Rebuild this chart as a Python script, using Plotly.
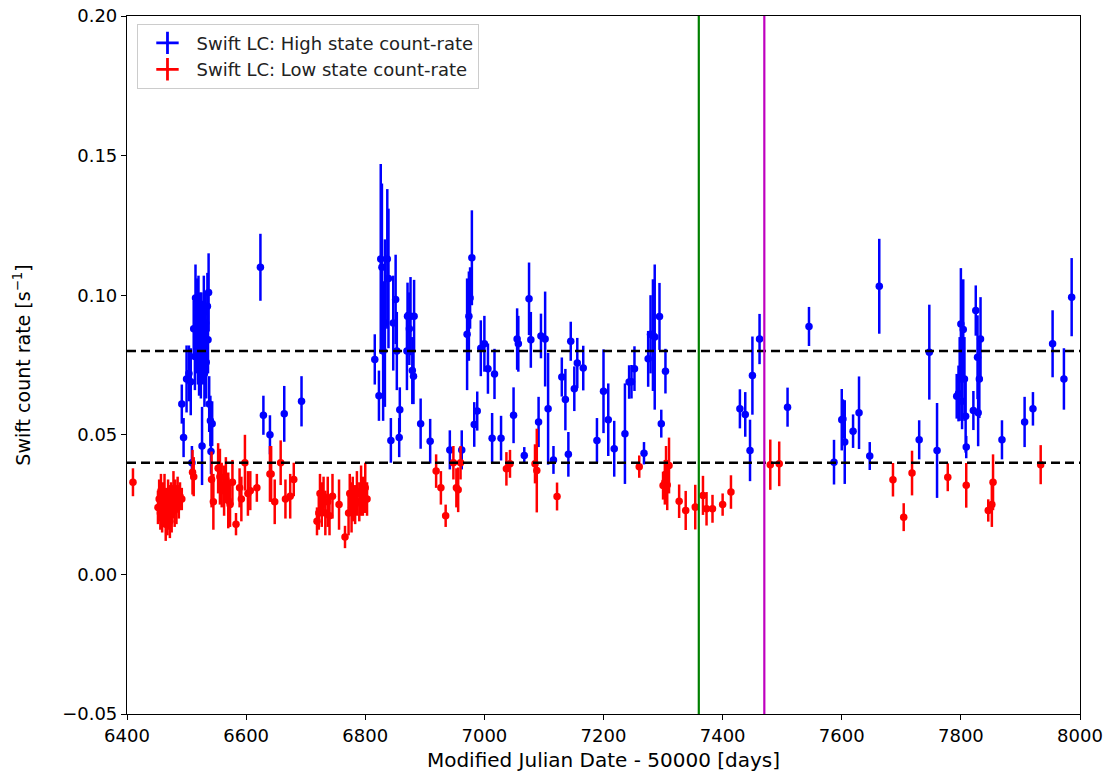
import plotly.graph_objects as go

# Swift light curve, high state (MJD - 50000, count rate, 1-sigma error)
high_mjd = [6492, 6495, 6500, 6504, 6507, 6509, 6512, 6514, 6515, 6517, 6518, 6519, 6520,
            6521, 6522, 6523, 6524, 6525, 6526, 6527, 6528, 6529, 6530, 6531, 6532, 6533,
            6535, 6536, 6537, 6538, 6540, 6541, 6543,
            6624, 6629, 6640, 6664, 6693,
            6816, 6823, 6826, 6828, 6830, 6833, 6837, 6839, 6843, 6847, 6851, 6853, 6857,
            6858, 6870, 6871, 6874, 6876, 6879, 6881, 6882, 6893, 6909,
            6942, 6962, 6971, 6974, 6976, 6979, 6983, 6988, 6994, 7000, 7006, 7013, 7017,
            7028, 7049, 7055, 7057, 7067, 7075, 7078, 7091, 7095, 7102, 7107, 7116, 7130,
            7136, 7141, 7145, 7151, 7156, 7166, 7189, 7200, 7208, 7218, 7236, 7243, 7247,
            7252, 7268, 7275, 7279, 7283, 7286, 7294, 7297, 7304,
            7429, 7438, 7446, 7450, 7462, 7509, 7545,
            7587, 7600, 7602, 7605, 7619, 7629, 7647, 7663,
            7730, 7747, 7760, 7793, 7796, 7798, 7800, 7802, 7804, 7806, 7808, 7809, 7821,
            7825, 7828, 7829, 7831, 7833, 7869, 7907, 7921, 7954, 7973, 7986]
high_rate = [0.061, 0.049, 0.070, 0.072, 0.069, 0.040, 0.088, 0.078, 0.099, 0.085, 0.092, 0.080, 0.095,
             0.075, 0.083, 0.089, 0.077, 0.091, 0.046, 0.086, 0.079, 0.094, 0.072, 0.082, 0.090, 0.076,
             0.096, 0.084, 0.101, 0.061, 0.055, 0.044, 0.054,
             0.110, 0.057, 0.050, 0.0575, 0.062,
             0.077, 0.064, 0.113, 0.110, 0.080, 0.090, 0.113, 0.106, 0.048, 0.090, 0.0985, 0.080, 0.049,
             0.059, 0.080, 0.0925, 0.088, 0.0925, 0.073, 0.071, 0.0925, 0.054, 0.0477,
             0.0446, 0.0446, 0.086, 0.0925, 0.099, 0.1134, 0.0537, 0.0585, 0.081, 0.0826, 0.0737, 0.0488, 0.0718,
             0.0488, 0.057, 0.0843, 0.0826, 0.0426, 0.0987, 0.084, 0.0546, 0.0854, 0.0843, 0.0593, 0.041, 0.0707,
             0.0626, 0.043, 0.0835, 0.0665, 0.0757, 0.0739, 0.048, 0.0656, 0.0554, 0.045, 0.0504, 0.0689, 0.069,
             0.0737, 0.0434, 0.0772, 0.086, 0.0857, 0.085, 0.0924, 0.054, 0.0728,
             0.0593, 0.0573, 0.0444, 0.0712, 0.0843, 0.0599, 0.0888,
             0.0402, 0.0554, 0.0557, 0.0474, 0.0513, 0.0579, 0.0424, 0.1032,
             0.0482, 0.0796, 0.0444, 0.0638, 0.0648, 0.070, 0.0897, 0.062, 0.0877, 0.070, 0.0566, 0.0456, 0.0587,
             0.0945, 0.0778, 0.0579, 0.070, 0.0843, 0.0482, 0.0546, 0.0593, 0.0826, 0.070, 0.0993]
high_err = [0.007, 0.007, 0.012, 0.010, 0.012, 0.006, 0.010, 0.012, 0.012, 0.013, 0.014, 0.012, 0.012,
            0.011, 0.013, 0.012, 0.014, 0.010, 0.014, 0.012, 0.011, 0.013, 0.012, 0.010, 0.011, 0.013,
            0.012, 0.012, 0.014, 0.010, 0.009, 0.008, 0.008,
            0.012, 0.007, 0.007, 0.010, 0.009,
            0.009, 0.009, 0.034, 0.030, 0.025, 0.030, 0.025, 0.025, 0.008, 0.017, 0.016, 0.014, 0.007,
            0.008, 0.014, 0.012, 0.013, 0.014, 0.012, 0.010, 0.013, 0.009, 0.008,
            0.007, 0.007, 0.020, 0.016, 0.011, 0.017, 0.008, 0.007, 0.010, 0.010, 0.009, 0.009, 0.009,
            0.008, 0.010, 0.011, 0.010, 0.003, 0.013, 0.010, 0.009, 0.008, 0.017, 0.020, 0.005, 0.007,
            0.011, 0.008, 0.007, 0.008, 0.009, 0.008, 0.008, 0.015, 0.013, 0.010, 0.018, 0.006, 0.006,
            0.008, 0.004, 0.010, 0.014, 0.020, 0.026, 0.012, 0.005, 0.008,
            0.007, 0.008, 0.011, 0.014, 0.009, 0.007, 0.007,
            0.008, 0.011, 0.007, 0.015, 0.006, 0.013, 0.005, 0.017,
            0.007, 0.017, 0.017, 0.008, 0.010, 0.015, 0.020, 0.010, 0.018, 0.015, 0.013, 0.004, 0.007,
            0.009, 0.015, 0.012, 0.014, 0.015, 0.007, 0.009, 0.006, 0.012, 0.011, 0.014]

# Swift light curve, low state
low_mjd = [6410,
           6452, 6454, 6456, 6457, 6459, 6460, 6462, 6463, 6465, 6466, 6468, 6469, 6471,
           6472, 6474, 6475, 6477, 6478, 6480, 6481, 6483, 6485, 6487, 6489, 6492,
           6510, 6512, 6542, 6545, 6553, 6556, 6559, 6563, 6566, 6570, 6573, 6577, 6583,
           6589, 6592, 6598, 6603, 6607, 6618, 6640, 6642, 6648, 6658, 6666, 6674, 6680,
           6719, 6722, 6724, 6727, 6730, 6733, 6737, 6740, 6745, 6756, 6766, 6772, 6774,
           6777, 6779, 6783, 6786, 6790, 6793, 6796, 6800, 6803,
           6919, 6927, 6935, 6948, 6953, 6956, 6960, 7037, 7043, 7085, 7088, 7122, 7260,
           7300, 7303, 7305, 7307, 7310, 7327, 7338, 7354, 7367, 7373, 7383, 7400, 7414,
           7480, 7495, 7686, 7704, 7718, 7778, 7809, 7846, 7852, 7854, 7934]
low_rate = [0.033,
            0.024, 0.027, 0.022, 0.030, 0.020, 0.026, 0.023, 0.029, 0.018, 0.025, 0.021, 0.028, 0.024,
            0.019, 0.027, 0.022, 0.026, 0.030, 0.023, 0.028, 0.025, 0.029, 0.026, 0.028, 0.027,
            0.0366, 0.035, 0.034, 0.026, 0.038, 0.035, 0.032, 0.030, 0.034, 0.0265, 0.025, 0.033, 0.018,
            0.031, 0.027, 0.040, 0.029, 0.030, 0.031, 0.036, 0.036, 0.026, 0.040, 0.027, 0.028, 0.034,
            0.019, 0.022, 0.029, 0.025, 0.028, 0.022, 0.026, 0.021, 0.028, 0.025, 0.0134, 0.022, 0.029,
            0.024, 0.027, 0.025, 0.029, 0.026, 0.030, 0.028, 0.031, 0.027,
            0.037, 0.031, 0.021, 0.040, 0.031, 0.0303, 0.040, 0.0378, 0.0396, 0.0396, 0.0372, 0.0279, 0.0386,
            0.0318, 0.033, 0.036, 0.032, 0.039, 0.0262, 0.0229, 0.0241, 0.0283, 0.0235, 0.0235, 0.025, 0.0295,
            0.0393, 0.0396, 0.0339, 0.0205, 0.0363, 0.0348, 0.0319, 0.0229, 0.025, 0.033, 0.0393]
low_err = [0.005,
           0.006, 0.007, 0.006, 0.006, 0.005, 0.007, 0.006, 0.007, 0.006, 0.006, 0.007, 0.006, 0.008,
           0.006, 0.006, 0.007, 0.006, 0.007, 0.006, 0.006, 0.007, 0.006, 0.006, 0.005, 0.004,
           0.008, 0.007, 0.010, 0.010, 0.009, 0.010, 0.008, 0.009, 0.008, 0.010, 0.008, 0.008, 0.004,
           0.007, 0.008, 0.010, 0.008, 0.007, 0.005, 0.010, 0.010, 0.008, 0.008, 0.007, 0.008, 0.006,
           0.005, 0.006, 0.007, 0.008, 0.007, 0.008, 0.009, 0.007, 0.008, 0.009, 0.004, 0.008, 0.007,
           0.009, 0.008, 0.007, 0.008, 0.007, 0.009, 0.007, 0.009, 0.006,
           0.006, 0.006, 0.004, 0.006, 0.007, 0.008, 0.006, 0.006, 0.005, 0.007, 0.015, 0.005, 0.004,
           0.005, 0.008, 0.010, 0.009, 0.010, 0.006, 0.007, 0.008, 0.007, 0.006, 0.005, 0.004, 0.006,
           0.009, 0.008, 0.006, 0.005, 0.008, 0.005, 0.008, 0.004, 0.008, 0.010, 0.007]

# State thresholds and marked epochs
thresholds = [0.04, 0.08]
epoch_lines = [(7360, "#008000"), (7470, "#bf00bf")]

font_family = "DejaVu Sans"

fig = go.Figure()


def add_series(x, y, err, color, name):
    fig.add_trace(go.Scatter(
        x=x, y=y, mode="markers",
        marker=dict(color=color, size=7.5),
        error_y=dict(type="data", array=err, color=color, thickness=2.5, width=0),
        showlegend=False, hoverinfo="x+y",
    ))
    # legend entry drawn as an error-bar cross
    fig.add_trace(go.Scatter(
        x=[None], y=[None], mode="markers", name=name,
        marker=dict(symbol="cross-thin", size=17, color=color,
                    line=dict(color=color, width=2.8)),
    ))


add_series(high_mjd, high_rate, high_err, "#0000ff", "Swift LC: High state count-rate")
add_series(low_mjd, low_rate, low_err, "#ff0000", "Swift LC: Low state count-rate")

for level in thresholds:
    fig.add_shape(type="line", xref="paper", x0=0, x1=1, yref="y", y0=level, y1=level,
                  line=dict(color="black", width=2.4, dash="9px,5px"))
for xv, col in epoch_lines:
    fig.add_shape(type="line", xref="x", x0=xv, x1=xv, yref="paper", y0=0, y1=1,
                  line=dict(color=col, width=2.2))

axis_common = dict(
    showgrid=False, zeroline=False, showline=True, linecolor="black", linewidth=1.2,
    mirror=True, ticks="outside", ticklen=5, tickwidth=1.2, tickcolor="black",
    automargin=False,
    tickfont=dict(family=font_family, size=18, color="black"),
)

fig.update_xaxes(range=[6400, 8000], tickvals=list(range(6400, 8001, 200)),
                 title=dict(text="Modified Julian Date - 50000 [days]",
                            font=dict(family=font_family, size=20, color="black"),
                            standoff=8),
                 **axis_common)
fig.update_yaxes(range=[-0.05, 0.20], tickvals=[-0.05, 0.0, 0.05, 0.10, 0.15, 0.20],
                 ticktext=["\u22120.05", "0.00", "0.05", "0.10", "0.15", "0.20"],
                 title=dict(text="Swift count rate [s<sup>\u22121</sup>]",
                            font=dict(family=font_family, size=19, color="black"),
                            standoff=26),
                 **axis_common)

fig.update_layout(
    width=1112, height=775,
    margin=dict(l=127, r=32, t=16, b=61),
    plot_bgcolor="white", paper_bgcolor="white",
    font=dict(family=font_family, color="black"),
    legend=dict(x=0.011, y=0.989, xanchor="left", yanchor="top",
                bgcolor="rgba(255,255,255,0.8)", bordercolor="#cccccc", borderwidth=1,
                font=dict(family=font_family, size=18, color="#222222"),
                itemwidth=48, tracegroupgap=0),
)

fig.write_html("out.html")
